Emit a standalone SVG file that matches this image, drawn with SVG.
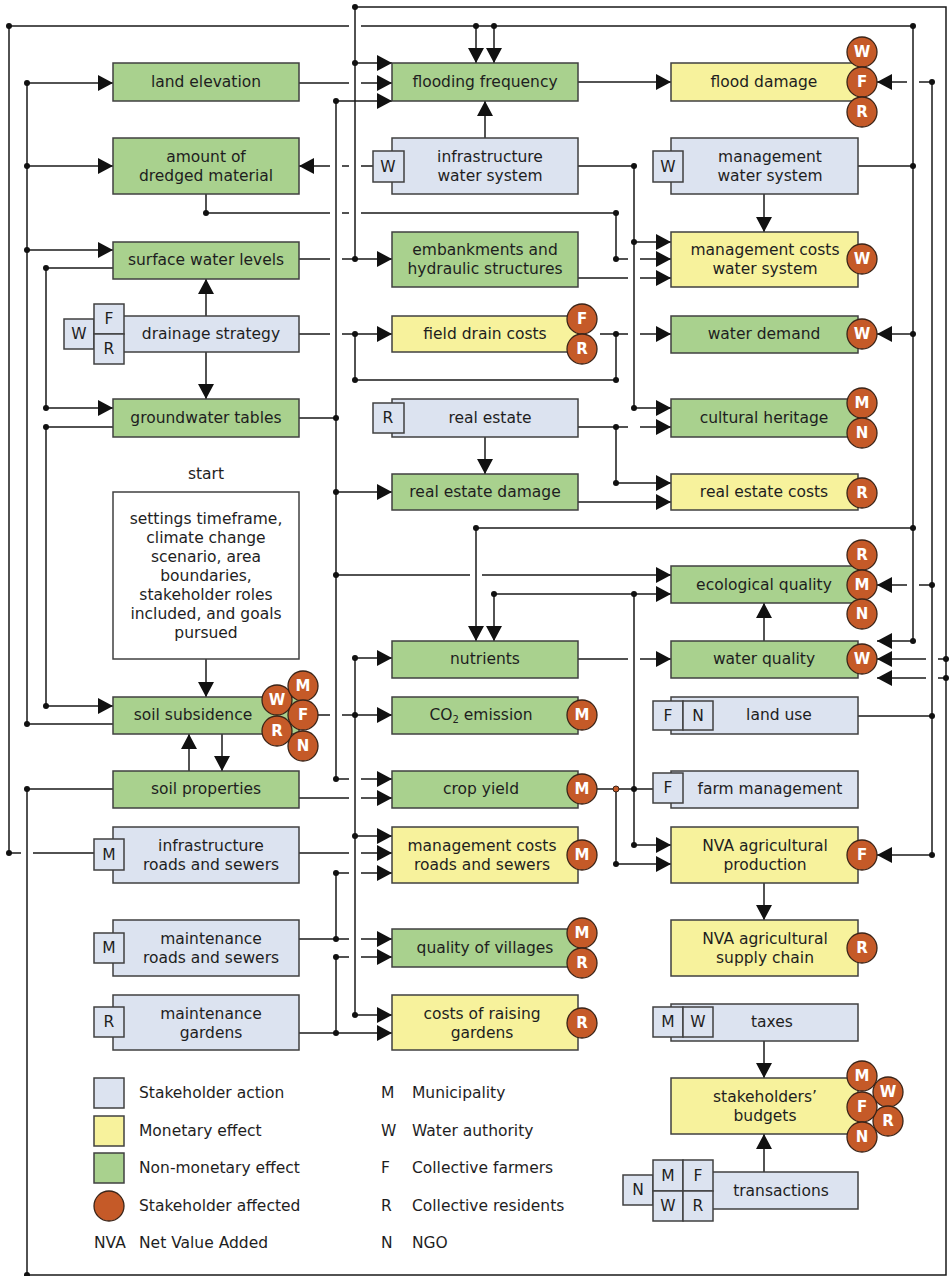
<svg xmlns="http://www.w3.org/2000/svg" width="949" height="1276" viewBox="0 0 949 1276">
<defs>
<marker id="ah" markerUnits="userSpaceOnUse" markerWidth="16" markerHeight="16" refX="15" refY="8" orient="auto">
<path d="M0,0 L15,8 L0,16 z" fill="#111"/>
</marker>
</defs>
<style>
.ln{fill:none;stroke:#1a1a1a;stroke-width:1.5}
.ar{marker-end:url(#ah)}
.dot{fill:#111}
.bx{stroke:#404040;stroke-width:1.5}
.g{fill:#a9d18e}.y{fill:#f7f29c}.b{fill:#dce3f0}.w{fill:#fff}
.t{font-family:"DejaVu Sans",Verdana,sans-serif;font-size:15.5px;fill:#1e1e1e;text-anchor:middle;dominant-baseline:central}
.tl{font-family:"DejaVu Sans",Verdana,sans-serif;font-size:15.5px;fill:#1e1e1e;dominant-baseline:central}
.sc{fill:#c55a28;stroke:#3a2418;stroke-width:1.3}
.st{font-family:"DejaVu Sans",Verdana,sans-serif;font-size:15px;font-weight:bold;fill:#fff;text-anchor:middle;dominant-baseline:central}
</style>
<rect width="949" height="1276" fill="#fff"/>
<g id="connectors">
<path class="ln" d="M94,853 L33,853 M21,853 L9,853 L9,26 L349,26 M361,26 L913,26 L913,641"/>
<path class="ln" d="M858,166 L913,166"/>
<path class="ln ar" d="M476,26 L476,63"/>
<path class="ln ar" d="M494,26 L494,63"/>
<path class="ln ar" d="M578,82 L671,82"/>
<path class="ln ar" d="M913,334 L877,334"/>
<path class="ln" d="M913,528 L476,528"/>
<path class="ln ar" d="M476,528 L476,641"/>
<path class="ln ar" d="M913,641 L877,641"/>
<path class="ln" d="M858,716 L932,716 M932,82 L932,855"/>
<path class="ln ar" d="M932,82 L919,82 M907,82 L877,82"/>
<path class="ln ar" d="M932,585 L919,585 M907,585 L877,585"/>
<path class="ln ar" d="M932,855 L877,855"/>
<path class="ln" d="M113,789 L27,789 L27,1275 L946,1275 L946,7 L355,7 L355,259"/>
<path class="ln ar" d="M355,63 L392,63"/>
<path class="ln ar" d="M946,659 L938,659 M926,659 L877,659"/>
<path class="ln ar" d="M946,678 L938,678 M926,678 L877,678"/>
<path class="ln" d="M113,724 L27,724 L27,83"/>
<path class="ln ar" d="M27,83 L113,83"/>
<path class="ln ar" d="M27,166 L113,166"/>
<path class="ln ar" d="M27,250 L113,250"/>
<path class="ln ar" d="M113,268 L46,268 L46,408 L113,408"/>
<path class="ln ar" d="M113,427 L46,427 L46,706 L113,706"/>
<path class="ln ar" d="M299,83 L349,83 M361,83 L392,83"/>
<path class="ln" d="M299,418 L336,418 M336,101 L336,779"/>
<path class="ln ar" d="M336,101 L392,101"/>
<path class="ln ar" d="M336,492 L392,492"/>
<path class="ln ar" d="M336,575 L470,575 M482,575 L671,575"/>
<path class="ln ar" d="M336,779 L349,779 M361,779 L392,779"/>
<path class="ln ar" d="M373,166 L361,166 M349,166 L342,166 M330,166 L299,166"/>
<path class="ln ar" d="M485,138 L485,101"/>
<path class="ln ar" d="M578,166 L634,166 L634,408 L671,408"/>
<path class="ln ar" d="M634,242 L671,242"/>
<path class="ln ar" d="M206,194 L206,213 L330,213 M342,213 L349,213 M361,213 L616,213 L616,259 L628,259 M640,259 L671,259"/>
<path class="ln ar" d="M299,259 L330,259 M342,259 L392,259"/>
<path class="ln ar" d="M578,278 L628,278 M640,278 L671,278"/>
<path class="ln ar" d="M764,194 L764,232"/>
<path class="ln ar" d="M299,334 L330,334 M342,334 L392,334"/>
<path class="ln" d="M355,334 L355,380 L616,380 L616,334"/>
<path class="ln ar" d="M600,334 L628,334 M640,334 L671,334"/>
<path class="ln ar" d="M206,316 L206,279"/>
<path class="ln ar" d="M206,352 L206,399"/>
<path class="ln ar" d="M578,427 L628,427 M640,427 L671,427"/>
<path class="ln ar" d="M616,427 L616,483 L671,483"/>
<path class="ln ar" d="M485,437 L485,474"/>
<path class="ln ar" d="M578,502 L671,502"/>
<path class="ln ar" d="M494,594 L494,641"/>
<path class="ln ar" d="M494,594 L671,594"/>
<path class="ln ar" d="M634,594 L634,845 L671,845"/>
<path class="ln" d="M597,789 L653,789"/>
<path class="ln ar" d="M616,789 L616,864 L671,864"/>
<path class="ln ar" d="M578,659 L628,659 M640,659 L671,659"/>
<path class="ln ar" d="M764,641 L764,603"/>
<path class="ln ar" d="M206,659 L206,697"/>
<path class="ln ar" d="M189,771 L189,734"/>
<path class="ln ar" d="M222,734 L222,771"/>
<path class="ln ar" d="M318,715 L330,715 M342,715 L392,715"/>
<path class="ln" d="M355,658 L355,1015"/>
<path class="ln ar" d="M355,658 L392,658"/>
<path class="ln ar" d="M355,836 L392,836"/>
<path class="ln ar" d="M355,1015 L392,1015"/>
<path class="ln ar" d="M299,798 L349,798 M361,798 L392,798"/>
<path class="ln ar" d="M299,853 L349,853 M361,853 L392,853"/>
<path class="ln" d="M299,939 L336,939 L336,873"/>
<path class="ln ar" d="M336,873 L349,873 M361,873 L392,873"/>
<path class="ln ar" d="M336,939 L349,939 M361,939 L392,939"/>
<path class="ln ar" d="M299,1033 L392,1033"/>
<path class="ln" d="M336,1033 L336,957"/>
<path class="ln ar" d="M336,957 L349,957 M361,957 L392,957"/>
<path class="ln ar" d="M764,883 L764,920"/>
<path class="ln ar" d="M764,1041 L764,1078"/>
<path class="ln ar" d="M764,1172 L764,1134"/>
<g class="dot">
<circle cx="9" cy="853" r="3"/><circle cx="9" cy="26" r="3"/><circle cx="476" cy="26" r="3"/><circle cx="494" cy="26" r="3"/><circle cx="913" cy="26" r="3"/><circle cx="913" cy="166" r="3"/><circle cx="913" cy="334" r="3"/><circle cx="913" cy="528" r="3"/><circle cx="476" cy="528" r="3"/><circle cx="913" cy="641" r="3"/>
<circle cx="932" cy="716" r="3"/><circle cx="932" cy="82" r="3"/><circle cx="932" cy="585" r="3"/><circle cx="932" cy="855" r="3"/>
<circle cx="27" cy="789" r="3"/><circle cx="27" cy="1275" r="3"/><circle cx="355" cy="7" r="3"/><circle cx="355" cy="63" r="3"/><circle cx="355" cy="259" r="3"/><circle cx="946" cy="659" r="3"/><circle cx="946" cy="678" r="3"/>
<circle cx="27" cy="724" r="3"/><circle cx="27" cy="83" r="3"/><circle cx="27" cy="166" r="3"/><circle cx="27" cy="250" r="3"/>
<circle cx="46" cy="268" r="3"/><circle cx="46" cy="408" r="3"/><circle cx="46" cy="427" r="3"/><circle cx="46" cy="706" r="3"/>
<circle cx="336" cy="418" r="3"/><circle cx="336" cy="101" r="3"/><circle cx="336" cy="492" r="3"/><circle cx="336" cy="575" r="3"/><circle cx="336" cy="779" r="3"/>
<circle cx="634" cy="166" r="3"/><circle cx="634" cy="242" r="3"/><circle cx="634" cy="408" r="3"/>
<circle cx="206" cy="213" r="3"/><circle cx="616" cy="213" r="3"/><circle cx="616" cy="259" r="3"/>
<circle cx="355" cy="334" r="3"/><circle cx="355" cy="380" r="3"/><circle cx="616" cy="380" r="3"/><circle cx="616" cy="334" r="3"/>
<circle cx="616" cy="427" r="3"/><circle cx="616" cy="483" r="3"/>
<circle cx="494" cy="594" r="3"/><circle cx="634" cy="594" r="3"/><circle cx="634" cy="789" r="3"/><circle cx="634" cy="845" r="3"/><circle cx="616" cy="864" r="3"/>
<circle cx="355" cy="658" r="3"/><circle cx="355" cy="715" r="3"/><circle cx="355" cy="836" r="3"/><circle cx="355" cy="1015" r="3"/>
<circle cx="336" cy="873" r="3"/><circle cx="336" cy="939" r="3"/><circle cx="336" cy="957" r="3"/><circle cx="336" cy="1033" r="3"/>
</g>
<circle cx="616" cy="789" r="3" fill="#c55a28" stroke="#3a2418" stroke-width="1"/>
</g>

<g id="land-elevation"><rect class="bx g" x="113" y="63" width="186" height="38"/><text class="t" x="206" y="82">land elevation</text></g>
<g id="dredged-material"><rect class="bx g" x="113" y="138" width="186" height="56"/><text class="t" x="206" y="157">amount of</text><text class="t" x="206" y="176">dredged material</text></g>
<g id="surface-water-levels"><rect class="bx g" x="113" y="242" width="186" height="37"/><text class="t" x="206" y="260">surface water levels</text></g>
<g id="drainage-strategy"><rect class="bx b" x="113" y="316" width="186" height="36"/><text class="t" x="211" y="334">drainage strategy</text>
<rect class="bx b" x="64" y="319" width="30" height="30"/><text class="t" x="79" y="334">W</text>
<rect class="bx b" x="94" y="304" width="30" height="30"/><text class="t" x="109" y="319">F</text>
<rect class="bx b" x="94" y="334" width="30" height="30"/><text class="t" x="109" y="349">R</text></g>
<g id="groundwater-tables"><rect class="bx g" x="113" y="399" width="186" height="38"/><text class="t" x="206" y="418">groundwater tables</text></g>
<g id="settings"><text class="t" x="206" y="474">start</text><rect class="bx w" x="113" y="492" width="186" height="167"/>
<text class="t" x="206" y="519">settings timeframe,</text><text class="t" x="206" y="538">climate change</text><text class="t" x="206" y="557">scenario, area</text><text class="t" x="206" y="576">boundaries,</text><text class="t" x="206" y="595">stakeholder roles</text><text class="t" x="206" y="614">included, and goals</text><text class="t" x="206" y="633">pursued</text></g>
<g id="soil-subsidence"><rect class="bx g" x="113" y="697" width="186" height="37"/><text class="t" x="193" y="715">soil subsidence</text>
<circle class="sc" cx="277" cy="700" r="15"/><text class="st" x="277" y="700">W</text>
<circle class="sc" cx="303" cy="686" r="15"/><text class="st" x="303" y="686">M</text>
<circle class="sc" cx="303" cy="715" r="15"/><text class="st" x="303" y="715">F</text>
<circle class="sc" cx="277" cy="731" r="15"/><text class="st" x="277" y="731">R</text>
<circle class="sc" cx="303" cy="746" r="15"/><text class="st" x="303" y="746">N</text></g>
<g id="soil-properties"><rect class="bx g" x="113" y="771" width="186" height="37"/><text class="t" x="206" y="789">soil properties</text></g>
<g id="infrastructure-roads"><rect class="bx b" x="113" y="827" width="186" height="56"/><text class="t" x="211" y="846">infrastructure</text><text class="t" x="211" y="865">roads and sewers</text>
<rect class="bx b" x="94" y="839" width="30" height="31"/><text class="t" x="109" y="855">M</text></g>
<g id="maintenance-roads"><rect class="bx b" x="113" y="920" width="186" height="56"/><text class="t" x="211" y="939">maintenance</text><text class="t" x="211" y="958">roads and sewers</text>
<rect class="bx b" x="94" y="933" width="30" height="30"/><text class="t" x="109" y="948">M</text></g>
<g id="maintenance-gardens"><rect class="bx b" x="113" y="995" width="186" height="55"/><text class="t" x="211" y="1014">maintenance</text><text class="t" x="211" y="1033">gardens</text>
<rect class="bx b" x="94" y="1007" width="30" height="30"/><text class="t" x="109" y="1022">R</text></g>

<g id="flooding-frequency"><rect class="bx g" x="392" y="63" width="186" height="38"/><text class="t" x="485" y="82">flooding frequency</text></g>
<g id="infrastructure-water"><rect class="bx b" x="392" y="138" width="186" height="56"/><text class="t" x="490" y="157">infrastructure</text><text class="t" x="490" y="176">water system</text>
<rect class="bx b" x="373" y="151" width="31" height="31"/><text class="t" x="388" y="167">W</text></g>
<g id="embankments"><rect class="bx g" x="392" y="232" width="186" height="55"/><text class="t" x="485" y="250">embankments and</text><text class="t" x="485" y="269">hydraulic structures</text></g>
<g id="field-drain-costs"><rect class="bx y" x="392" y="316" width="186" height="36"/><text class="t" x="485" y="334">field drain costs</text>
<circle class="sc" cx="582" cy="319" r="15"/><text class="st" x="582" y="319">F</text>
<circle class="sc" cx="582" cy="349" r="15"/><text class="st" x="582" y="349">R</text></g>
<g id="real-estate"><rect class="bx b" x="392" y="399" width="186" height="38"/><text class="t" x="490" y="418">real estate</text>
<rect class="bx b" x="373" y="403" width="31" height="30"/><text class="t" x="388" y="418">R</text></g>
<g id="real-estate-damage"><rect class="bx g" x="392" y="474" width="186" height="36"/><text class="t" x="485" y="492">real estate damage</text></g>
<g id="nutrients"><rect class="bx g" x="392" y="641" width="186" height="37"/><text class="t" x="485" y="659">nutrients</text></g>
<g id="co2-emission"><rect class="bx g" x="392" y="697" width="186" height="37"/><text class="t" x="481" y="715">CO<tspan font-size="10" dy="4">2</tspan><tspan dy="-4"> emission</tspan></text>
<circle class="sc" cx="582" cy="715" r="15"/><text class="st" x="582" y="715">M</text></g>
<g id="crop-yield"><rect class="bx g" x="392" y="771" width="186" height="37"/><text class="t" x="481" y="789">crop yield</text>
<circle class="sc" cx="582" cy="789" r="15"/><text class="st" x="582" y="789">M</text></g>
<g id="management-costs-roads"><rect class="bx y" x="392" y="827" width="186" height="56"/><text class="t" x="482" y="846">management costs</text><text class="t" x="482" y="865">roads and sewers</text>
<circle class="sc" cx="582" cy="855" r="15"/><text class="st" x="582" y="855">M</text></g>
<g id="quality-of-villages"><rect class="bx g" x="392" y="929" width="186" height="38"/><text class="t" x="485" y="948">quality of villages</text>
<circle class="sc" cx="582" cy="933" r="15"/><text class="st" x="582" y="933">M</text>
<circle class="sc" cx="582" cy="963" r="15"/><text class="st" x="582" y="963">R</text></g>
<g id="costs-raising-gardens"><rect class="bx y" x="392" y="995" width="186" height="55"/><text class="t" x="482" y="1014">costs of raising</text><text class="t" x="482" y="1033">gardens</text>
<circle class="sc" cx="582" cy="1023" r="15"/><text class="st" x="582" y="1023">R</text></g>

<g id="flood-damage"><rect class="bx y" x="671" y="63" width="187" height="38"/><text class="t" x="764" y="82">flood damage</text>
<circle class="sc" cx="862" cy="52" r="15"/><text class="st" x="862" y="52">W</text>
<circle class="sc" cx="862" cy="82" r="15"/><text class="st" x="862" y="82">F</text>
<circle class="sc" cx="862" cy="112" r="15"/><text class="st" x="862" y="112">R</text></g>
<g id="management-water"><rect class="bx b" x="671" y="138" width="187" height="56"/><text class="t" x="770" y="157">management</text><text class="t" x="770" y="176">water system</text>
<rect class="bx b" x="653" y="151" width="30" height="31"/><text class="t" x="668" y="167">W</text></g>
<g id="management-costs-water"><rect class="bx y" x="671" y="232" width="187" height="55"/><text class="t" x="765" y="250">management costs</text><text class="t" x="765" y="269">water system</text>
<circle class="sc" cx="862" cy="259" r="15"/><text class="st" x="862" y="259">W</text></g>
<g id="water-demand"><rect class="bx g" x="671" y="316" width="187" height="37"/><text class="t" x="764" y="334">water demand</text>
<circle class="sc" cx="862" cy="334" r="15"/><text class="st" x="862" y="334">W</text></g>
<g id="cultural-heritage"><rect class="bx g" x="671" y="399" width="187" height="38"/><text class="t" x="764" y="418">cultural heritage</text>
<circle class="sc" cx="862" cy="403" r="15"/><text class="st" x="862" y="403">M</text>
<circle class="sc" cx="862" cy="433" r="15"/><text class="st" x="862" y="433">N</text></g>
<g id="real-estate-costs"><rect class="bx y" x="671" y="474" width="187" height="36"/><text class="t" x="764" y="492">real estate costs</text>
<circle class="sc" cx="862" cy="493" r="15"/><text class="st" x="862" y="493">R</text></g>
<g id="ecological-quality"><rect class="bx g" x="671" y="566" width="187" height="37"/><text class="t" x="764" y="585">ecological quality</text>
<circle class="sc" cx="862" cy="555" r="15"/><text class="st" x="862" y="555">R</text>
<circle class="sc" cx="862" cy="585" r="15"/><text class="st" x="862" y="585">M</text>
<circle class="sc" cx="862" cy="614" r="15"/><text class="st" x="862" y="614">N</text></g>
<g id="water-quality"><rect class="bx g" x="671" y="641" width="187" height="37"/><text class="t" x="764" y="659">water quality</text>
<circle class="sc" cx="862" cy="659" r="15"/><text class="st" x="862" y="659">W</text></g>
<g id="land-use"><rect class="bx b" x="671" y="697" width="187" height="37"/><text class="t" x="779" y="715">land use</text>
<rect class="bx b" x="653" y="701" width="30" height="29"/><text class="t" x="668" y="716">F</text>
<rect class="bx b" x="683" y="701" width="30" height="29"/><text class="t" x="698" y="716">N</text></g>
<g id="farm-management"><rect class="bx b" x="671" y="771" width="187" height="37"/><text class="t" x="770" y="789">farm management</text>
<rect class="bx b" x="653" y="773" width="30" height="30"/><text class="t" x="668" y="788">F</text></g>
<g id="nva-production"><rect class="bx y" x="671" y="827" width="187" height="56"/><text class="t" x="765" y="846">NVA agricultural</text><text class="t" x="765" y="865">production</text>
<circle class="sc" cx="862" cy="855" r="15"/><text class="st" x="862" y="855">F</text></g>
<g id="nva-supply-chain"><rect class="bx y" x="671" y="920" width="187" height="56"/><text class="t" x="765" y="939">NVA agricultural</text><text class="t" x="765" y="958">supply chain</text>
<circle class="sc" cx="862" cy="948" r="15"/><text class="st" x="862" y="948">R</text></g>
<g id="taxes"><rect class="bx b" x="671" y="1004" width="187" height="37"/><text class="t" x="772" y="1022">taxes</text>
<rect class="bx b" x="653" y="1007" width="30" height="30"/><text class="t" x="668" y="1022">M</text>
<rect class="bx b" x="683" y="1007" width="30" height="30"/><text class="t" x="698" y="1022">W</text></g>
<g id="stakeholders-budgets"><rect class="bx y" x="671" y="1078" width="187" height="56"/><text class="t" x="765" y="1097">stakeholders’</text><text class="t" x="765" y="1116">budgets</text>
<circle class="sc" cx="888" cy="1092" r="15"/><text class="st" x="888" y="1092">W</text>
<circle class="sc" cx="888" cy="1121" r="15"/><text class="st" x="888" y="1121">R</text>
<circle class="sc" cx="862" cy="1076" r="15"/><text class="st" x="862" y="1076">M</text>
<circle class="sc" cx="862" cy="1107" r="15"/><text class="st" x="862" y="1107">F</text>
<circle class="sc" cx="862" cy="1137" r="15"/><text class="st" x="862" y="1137">N</text></g>
<g id="transactions"><rect class="bx b" x="671" y="1172" width="187" height="37"/><text class="t" x="781" y="1191">transactions</text>
<rect class="bx b" x="623" y="1175" width="30" height="30"/><text class="t" x="638" y="1190">N</text>
<rect class="bx b" x="653" y="1160" width="30" height="31"/><text class="t" x="668" y="1176">M</text>
<rect class="bx b" x="653" y="1191" width="30" height="30"/><text class="t" x="668" y="1206">W</text>
<rect class="bx b" x="683" y="1160" width="30" height="31"/><text class="t" x="698" y="1176">F</text>
<rect class="bx b" x="683" y="1191" width="30" height="30"/><text class="t" x="698" y="1206">R</text></g>

<g id="legend">
<rect class="bx b" x="94" y="1078" width="30" height="30"/><text class="tl" x="139" y="1093">Stakeholder action</text>
<rect class="bx y" x="94" y="1116" width="30" height="30"/><text class="tl" x="139" y="1131">Monetary effect</text>
<rect class="bx g" x="94" y="1153" width="30" height="30"/><text class="tl" x="139" y="1168">Non-monetary effect</text>
<circle class="sc" cx="109" cy="1206" r="15"/><text class="tl" x="139" y="1206">Stakeholder affected</text>
<text class="tl" x="94" y="1243">NVA</text><text class="tl" x="139" y="1243">Net Value Added</text>
<text class="tl" x="381" y="1093">M</text><text class="tl" x="412" y="1093">Municipality</text>
<text class="tl" x="381" y="1131">W</text><text class="tl" x="412" y="1131">Water authority</text>
<text class="tl" x="381" y="1168">F</text><text class="tl" x="412" y="1168">Collective farmers</text>
<text class="tl" x="381" y="1206">R</text><text class="tl" x="412" y="1206">Collective residents</text>
<text class="tl" x="381" y="1243">N</text><text class="tl" x="412" y="1243">NGO</text>
</g>
</svg>
